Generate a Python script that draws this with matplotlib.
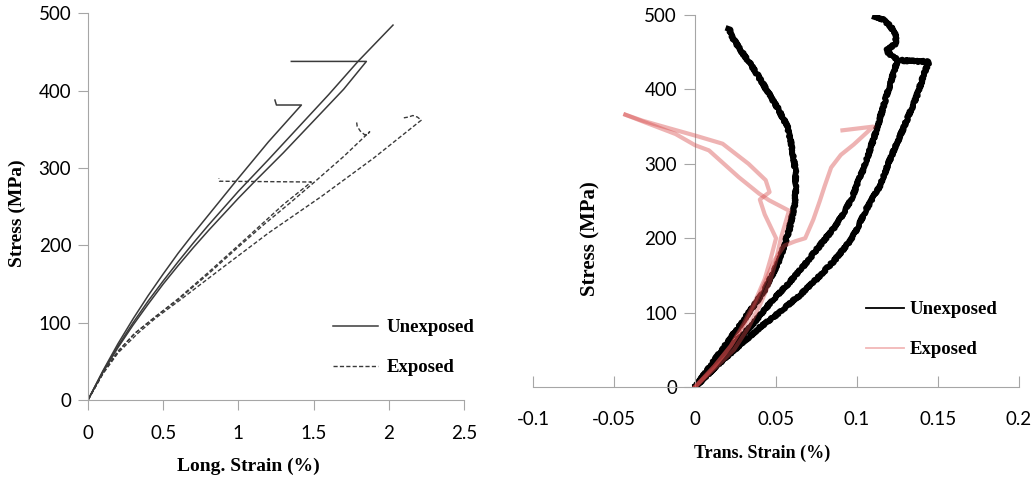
import matplotlib
matplotlib.use('Agg')
import matplotlib.pyplot as plt

# ---- left panel: longitudinal strain (%) vs stress (MPa) ----
unexp1_strain = [0, 0.1, 0.2, 0.3, 0.4, 0.5, 0.6, 0.7, 0.8, 0.9, 1.0, 1.2, 1.419, 1.253, 1.243]
unexp1_stress = [0, 38, 73, 105, 135, 163, 190, 215, 239, 263, 287, 334, 381.6, 381.6, 388]
unexp2_strain = [0, 0.1, 0.2, 0.3, 0.4, 0.5, 0.6, 0.7, 0.8, 0.9, 1.0, 1.1, 1.3, 1.5, 1.7, 1.851, 1.352]
unexp2_stress = [0, 36, 68, 97, 124, 150, 174, 197, 219, 240, 261, 281, 320, 361, 402, 438, 438]
unexp3_strain = [0, 0.1, 0.2, 0.3, 0.4, 0.5, 0.6, 0.7, 0.8, 0.9, 1.0, 1.2, 1.4, 1.6, 1.8, 2.028]
unexp3_stress = [0, 37, 70, 100, 128, 154, 179, 203, 226, 248, 270, 311, 353, 395, 439, 485]

exp1_strain = [0, 0.1, 0.2, 0.31, 0.45, 0.6, 0.8, 1.0, 1.17, 1.35, 1.5, 1.7, 1.873, 1.86, 1.84, 1.81, 1.79, 1.785]
exp1_stress = [0, 35, 63, 86, 108, 130, 163, 198, 227, 256, 281, 315, 347, 344, 343, 348, 354, 361]
exp2_strain = [0, 0.1, 0.2, 0.33, 0.45, 0.61, 0.9, 1.2, 1.55, 1.9, 2.216, 2.19, 2.16, 2.13, 2.10]
exp2_stress = [0, 34, 61, 86, 106, 129, 172, 216, 263, 313, 362, 366, 368, 366, 365]
exp3_strain = [0, 0.1, 0.2, 0.31, 0.45, 0.6, 0.8, 1.0, 1.164, 1.3, 1.485, 0.875, 0.87]
exp3_stress = [0, 35, 63, 86, 108, 131, 165, 200, 229, 253, 282, 283, 287]

# ---- right panel: transverse strain (%) vs stress (MPa) ----
t_unexp1_strain = [0, 0.015, 0.03, 0.043, 0.052, 0.058, 0.062, 0.062, 0.060, 0.057, 0.051, 0.044, 0.037, 0.029, 0.023, 0.021]
t_unexp1_stress = [0, 45, 90, 130, 170, 210, 250, 290, 320, 350, 375, 400, 425, 450, 470, 482]
t_unexp2_strain = [0, 0.012, 0.025, 0.037, 0.046, 0.056, 0.066, 0.077, 0.088, 0.097, 0.105, 0.112, 0.118,
                   0.123, 0.125, 0.121, 0.118, 0.121, 0.124, 0.124, 0.121, 0.116, 0.111]
t_unexp2_stress = [0, 30, 60, 88, 112, 135, 160, 190, 220, 255, 300, 345, 390,
                   425, 440, 446, 452, 457, 462, 472, 484, 494, 498]
t_unexp3_strain = [0, 0.013, 0.027, 0.040, 0.052, 0.064, 0.075, 0.086, 0.097, 0.106, 0.114, 0.120,
                   0.130, 0.137, 0.142, 0.1445, 0.127]
t_unexp3_stress = [0, 28, 55, 80, 100, 122, 145, 170, 200, 240, 270, 304, 355, 392, 425, 437, 439]

t_exp1_strain = [0, 0.012, 0.024, 0.033, 0.040, 0.046, 0.050, 0.053, 0.058, 0.0457, 0.0395, 0.027,
                 0.0086, 0.0, -0.012, -0.030, -0.043]
t_exp1_stress = [0, 25, 50, 80, 110, 140, 170, 200, 237, 251, 260, 282,
                 318, 325, 340, 355, 366]
t_exp2_strain = [0, 0.012, 0.022, 0.030, 0.037, 0.043, 0.047, 0.050, 0.043, 0.040, 0.046, 0.0436, 0.033,
                 0.017, 0.0, -0.018, -0.0325, -0.043]
t_exp2_stress = [0, 28, 55, 85, 115, 145, 175, 200, 232, 252, 262, 278, 300,
                 327, 338, 349, 358, 366]
t_exp3_strain = [0, 0.012, 0.022, 0.031, 0.038, 0.044, 0.049, 0.055, 0.062, 0.068, 0.073, 0.077, 0.080,
                 0.084, 0.090, 0.098, 0.104, 0.110, 0.091]
t_exp3_stress = [0, 28, 55, 85, 115, 145, 170, 190, 196, 200, 225, 250, 270,
                 295, 312, 326, 338, 350, 345]

left_xticks = [0, 0.5, 1, 1.5, 2, 2.5]
left_xlabels = ['0', '0.5', '1', '1.5', '2', '2.5']
right_xticks = [-0.1, -0.05, 0, 0.05, 0.1, 0.15, 0.2]
right_xlabels = ['-0.1', '-0.05', '0', '0.05', '0.1', '0.15', '0.2']
yticks = [0, 100, 200, 300, 400, 500]

tick_font = 'Lato'
label_font = 'Liberation Serif'
spine_col = '#a6a6a6'

fig = plt.figure(figsize=(10.35, 4.8), dpi=100)
ax1 = fig.add_axes([0.085, 0.1667, 0.3633, 0.8052])
ax2 = fig.add_axes([0.515, 0.19375, 0.4696, 0.775])

# left panel
line_col = '#3a3a3a'
ax1.plot(unexp1_strain, unexp1_stress, color=line_col, lw=1.1, label='Unexposed')
ax1.plot(unexp2_strain, unexp2_stress, color=line_col, lw=1.1)
ax1.plot(unexp3_strain, unexp3_stress, color=line_col, lw=1.1)
ax1.plot(exp1_strain, exp1_stress, color=line_col, lw=1.0, ls=(0, (3, 1.6)), label='Exposed')
ax1.plot(exp2_strain, exp2_stress, color=line_col, lw=1.0, ls=(0, (3, 1.6)))
ax1.plot(exp3_strain, exp3_stress, color=line_col, lw=1.0, ls=(0, (3, 1.6)))

ax1.set_xlim(0, 2.5)
ax1.set_ylim(0, 500)
ax1.set_xticks(left_xticks)
ax1.set_xticklabels(left_xlabels)
ax1.set_yticks(yticks)
ax1.tick_params(axis='x', direction='out', length=7, color=spine_col, labelsize=13.5, pad=11)
ax1.tick_params(axis='y', direction='out', length=7, color=spine_col, labelsize=13.5, pad=5)
ax1.set_xlabel('Long. Strain (%)', fontfamily=label_font, fontweight='bold', fontsize=14)
ax1.set_ylabel('Stress (MPa)', fontfamily=label_font, fontweight='bold', fontsize=14)
ax1.xaxis.set_label_coords(0.426, -0.15)
ax1.yaxis.set_label_coords(-0.165, 0.484)
ax1.legend(loc='upper left', bbox_to_anchor=(324 / 1035, 1 - 310 / 480),
           bbox_transform=fig.transFigure, frameon=False, borderpad=0,
           handlelength=2.4, handletextpad=0.45, labelspacing=1.2,
           prop={'family': label_font, 'weight': 'bold', 'size': 13.5})

# right panel
for xs, ys in [(t_unexp1_strain, t_unexp1_stress), (t_unexp2_strain, t_unexp2_stress),
               (t_unexp3_strain, t_unexp3_stress)]:
    ln, = ax2.plot(xs, ys, color='black', lw=4.0, solid_joinstyle='round', zorder=2)
    ln.set_sketch_params(scale=1.0, length=1.5, randomness=3)
for xs, ys in [(t_exp1_strain, t_exp1_stress), (t_exp2_strain, t_exp2_stress),
               (t_exp3_strain, t_exp3_stress)]:
    ax2.plot(xs, ys, color='#d84a4a', alpha=0.42, lw=3.0, zorder=3)

ax2.plot([], [], color='black', lw=1.3, label='Unexposed')
ax2.plot([], [], color='#f2b8b8', lw=1.3, label='Exposed')

ax2.set_xlim(-0.1, 0.2)
ax2.set_ylim(0, 500)
ax2.set_xticks(right_xticks)
ax2.set_xticklabels(right_xlabels)
ax2.set_yticks(yticks)
ax2.spines['left'].set_position(('data', 0))
ax2.tick_params(axis='x', direction='in', length=8, color=spine_col, labelsize=13.5, pad=17)
ax2.tick_params(axis='y', direction='out', length=8, color=spine_col, labelsize=13.5, pad=5)
ax2.set_xlabel('Trans. Strain (%)', fontfamily=label_font, fontweight='bold', fontsize=13)
ax2.set_ylabel('Stress (MPa)', fontfamily=label_font, fontweight='bold', fontsize=15)
ax2.xaxis.set_label_coords(0.471, -0.156)
ax2.yaxis.set_label_coords(0.138, 0.40)
ax2.legend(loc='upper left', bbox_to_anchor=(857 / 1035, 1 - 292 / 480),
           bbox_transform=fig.transFigure, frameon=False, borderpad=0,
           handlelength=2.0, handletextpad=0.3, labelspacing=1.2,
           prop={'family': label_font, 'weight': 'bold', 'size': 13.5})

for ax in (ax1, ax2):
    ax.spines['top'].set_visible(False)
    ax.spines['right'].set_visible(False)
    ax.spines['left'].set_color(spine_col)
    ax.spines['bottom'].set_color(spine_col)
    for lab in ax.get_xticklabels() + ax.get_yticklabels():
        lab.set_fontfamily(tick_font)

fig.savefig('out.png', dpi=100)
